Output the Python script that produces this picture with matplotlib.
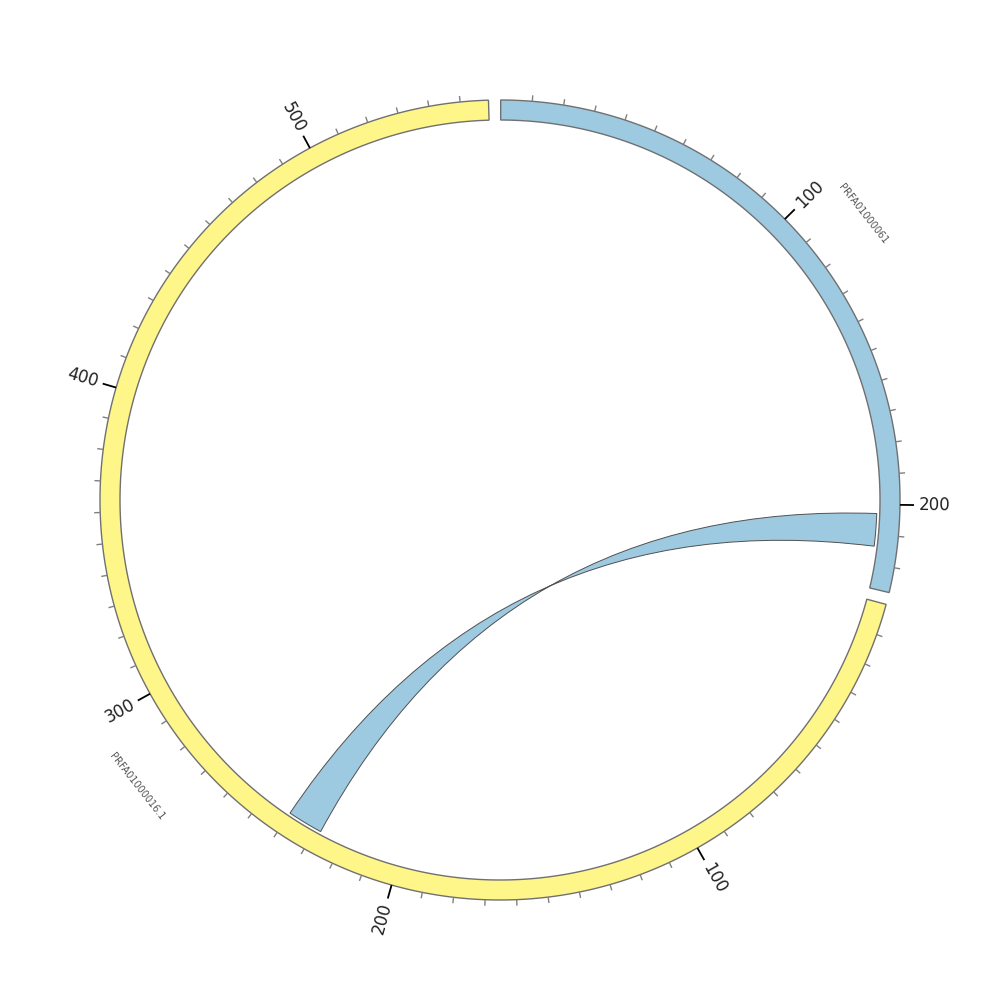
import numpy as np
import matplotlib
matplotlib.use("Agg")
import matplotlib.pyplot as plt
from matplotlib.path import Path
from matplotlib.patches import PathPatch, Polygon

# ---- data ----
seg_names = ["PRFA01000061", "PRFA01000016.1"]
seg_lengths = [228, 559]
seg_colors = ["#9ECAE1", "#FFF68A"]
# link: (segment, start, end) -> (segment, start, end); reversed target gives the twist
link_src = (0, 203, 214)
link_dst = (1, 240, 228)
link_color = "#9ECAE1"
major_step = 100
minor_step = 10

# ---- geometry ----
cx, cy = 500, 500
r_out, r_in, r_link = 400, 380, 377
gap = 1.75
start0 = 0.1
k = (360 - gap * len(seg_lengths)) / sum(seg_lengths)
seg_start = []
a = start0
for L in seg_lengths:
    seg_start.append(a)
    a += L * k + gap


def ang(seg, pos):
    return seg_start[seg] + pos * k


def xy(theta, r):
    t = np.radians(theta)
    return cx + r * np.sin(t), cy - r * np.cos(t)


fig = plt.figure(figsize=(10, 10), dpi=100)
ax = fig.add_axes([0, 0, 1, 1])
ax.set_xlim(0, 1000)
ax.set_ylim(1000, 0)
ax.set_aspect("equal")
ax.axis("off")

# segments
for i, (L, col) in enumerate(zip(seg_lengths, seg_colors)):
    th = np.linspace(ang(i, 0), ang(i, L), 300)
    xo, yo = xy(th, r_out)
    xi, yi = xy(th[::-1], r_in)
    pts = np.column_stack([np.r_[xo, xi], np.r_[yo, yi]])
    ax.add_patch(Polygon(pts, closed=True, facecolor=col, edgecolor="#707070", lw=1.0, zorder=2))

    # ticks
    for p in range(minor_step, L + 1, minor_step):
        th_p = ang(i, p)
        major = (p % major_step == 0)
        ln = 14 if major else 6
        x0, y0 = xy(th_p, r_out)
        x1, y1 = xy(th_p, r_out + ln)
        ax.plot([x0, x1], [y0, y1], color="black" if major else "#808080",
                lw=1.3 if major else 1.0, zorder=3, solid_capstyle="butt")
        if major:
            xl, yl = xy(th_p, r_out + 19)
            rot = 90 - th_p
            ha = "left"
            if 180 < th_p % 360 < 360:
                rot += 180
                ha = "right"
            ax.text(xl, yl, str(p), rotation=rot, rotation_mode="anchor",
                    ha=ha, va="center", fontsize=12, color="#222222", zorder=4)

    # segment name
    mid = ang(i, L / 2)
    xn, yn = xy(mid, 462)
    rot = -mid
    while rot <= -90:
        rot += 180
    while rot > 90:
        rot -= 180
    ax.text(xn, yn, seg_names[i], rotation=rot, rotation_mode="anchor",
            ha="center", va="center", fontsize=7, color="#555555", zorder=4)

# link ribbon
s_seg, s_a, s_b = link_src
d_seg, d_a, d_b = link_dst
th1 = np.linspace(ang(s_seg, s_a), ang(s_seg, s_b), 40)
th2 = np.linspace(ang(d_seg, d_a), ang(d_seg, d_b), 40)
verts, codes = [], []
x1s, y1s = xy(th1, r_link)
for j, (x, y) in enumerate(zip(x1s, y1s)):
    verts.append((x, y)); codes.append(Path.MOVETO if j == 0 else Path.LINETO)
x2s, y2s = xy(th2, r_link)
verts += [(cx, cy), (x2s[0], y2s[0])]; codes += [Path.CURVE3, Path.CURVE3]
for x, y in zip(x2s[1:], y2s[1:]):
    verts.append((x, y)); codes.append(Path.LINETO)
verts += [(cx, cy), (x1s[0], y1s[0])]; codes += [Path.CURVE3, Path.CURVE3]
verts.append((x1s[0], y1s[0])); codes.append(Path.CLOSEPOLY)
ax.add_patch(PathPatch(Path(verts, codes), facecolor=link_color, edgecolor="#505050",
                       lw=0.7, zorder=1))

fig.savefig("out.png", dpi=100, facecolor="white")
